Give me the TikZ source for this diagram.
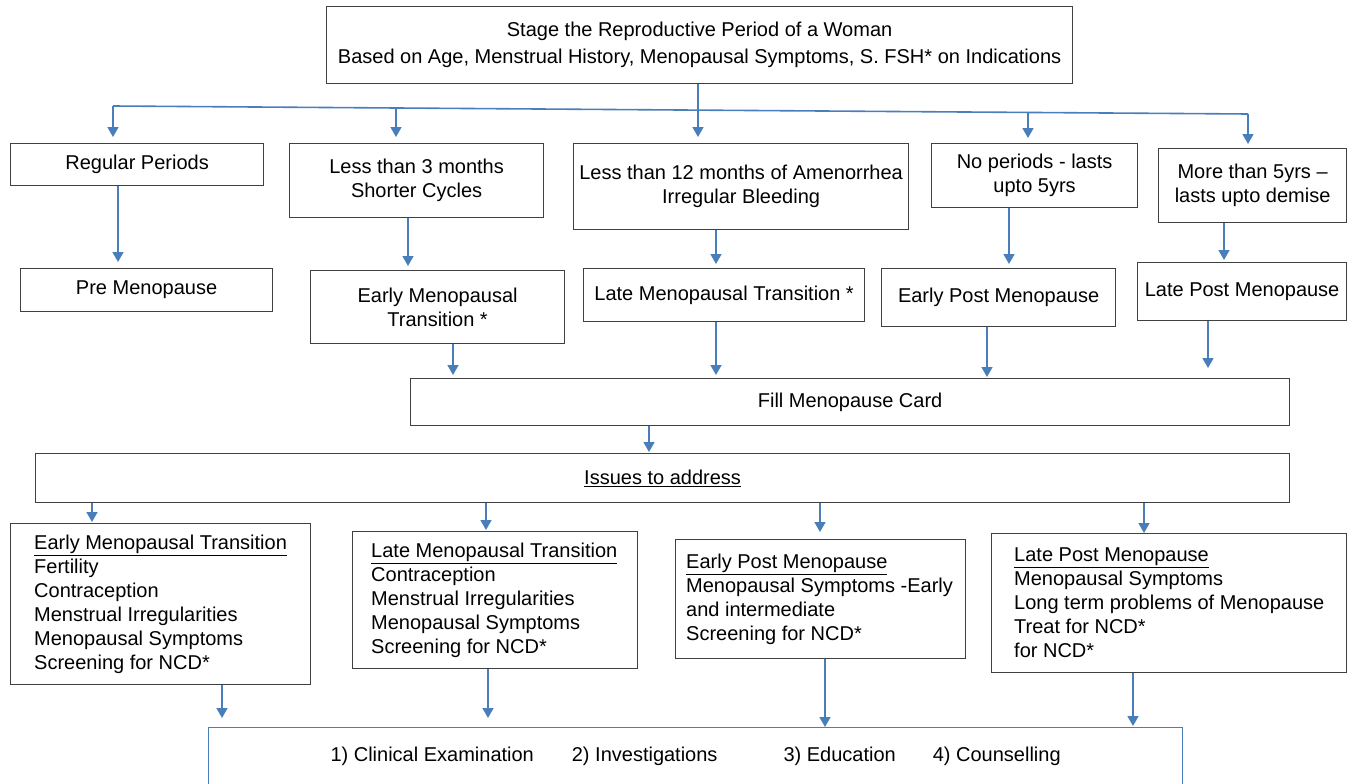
\documentclass[tikz,border=0pt]{standalone}
\usepackage{fontspec}
\setmainfont{Liberation Sans}
\usetikzlibrary{arrows.meta}
\definecolor{arrblue}{HTML}{4A7EBB}
\definecolor{boxgray}{HTML}{404040}

\begin{document}
\begin{tikzpicture}[x=1pt, y=-1pt,
  box/.style={draw=boxgray, line width=1.2pt, inner sep=0pt, align=center, font=\fontsize{20}{24}\selectfont},
  txt/.style={inner sep=0pt, anchor=west, align=left, font=\fontsize{20}{24}\selectfont},
  wire/.style={draw=arrblue, line width=1.6pt},
  arr/.style={wire, -{Triangle[width=11pt,length=10pt]}}]

  \useasboundingbox (0,0) rectangle (1349,784);

  \newcommand\bx[6]{\node[box, anchor=north west, minimum width=#4pt, minimum height=#5pt] (#1) at (#2,#3) {#6};}
  \newcommand\vlink[4]{\coordinate (vx) at (#3,0); \draw[arr, shorten >=#4pt] (#1.south -| vx) -- (#2.north -| vx);}

  %% top
  \bx{top}{326}{6}{746}{77}{Stage the Reproductive Period of a Woman\\[3pt]Based on Age, Menstrual History, Menopausal Symptoms, S. FSH* on Indications}

  %% stage rows
  \bx{r1}{10}{143}{253}{42}{Regular Periods}
  \bx{r2}{289}{143}{254}{74}{Less than 3 months\\Shorter Cycles}
  \bx{r3}{573}{143}{335}{86}{Less than 12 months of Amenorrhea\\Irregular Bleeding}
  \bx{r4}{931}{143}{206}{64}{No periods - lasts\\upto 5yrs}
  \bx{r5}{1158}{148}{188}{74}{More than 5yrs --\\lasts upto demise}

  \bx{s1}{20}{268}{252}{43}{Pre Menopause}
  \bx{s2}{310}{270}{254}{73}{Early Menopausal\\Transition *}
  \bx{s3}{583}{268}{281}{53}{Late Menopausal Transition *}
  \bx{s4}{881}{268}{234}{58}{Early Post Menopause}
  \bx{s5}{1137}{262}{209}{58}{Late Post Menopause}

  \bx{fill}{410}{378}{879}{47}{Fill Menopause Card}
  \bx{iss}{35}{453}{1254}{49}{\underline{Issues to address}}

  %% issues per stage
  \bx{t1}{10}{523}{300}{161}{}
  \node[txt] (t1x) at ([xshift=24pt]t1.west) {\underline{Early Menopausal Transition}\\Fertility\\Contraception\\Menstrual Irregularities\\Menopausal Symptoms\\Screening for NCD*};
  \bx{t2}{352}{531}{285}{137}{}
  \node[txt] (t2x) at ([xshift=19pt]t2.west) {\underline{Late Menopausal Transition}\\Contraception\\Menstrual Irregularities\\Menopausal Symptoms\\Screening for NCD*};
  \bx{t3}{675}{539}{290}{119}{}
  \node[txt] (t3x) at ([xshift=11pt]t3.west) {\underline{Early Post Menopause}\\Menopausal Symptoms -Early\\and intermediate\\Screening for NCD*};
  \bx{t4}{991}{533}{355}{139}{}
  \node[txt] (t4x) at ([xshift=23pt]t4.west) {\underline{Late Post Menopause}\\Menopausal Symptoms\\Long term problems of Menopause\\Treat for NCD*\\for NCD*};

  %% bottom
  \node[draw=arrblue, line width=1.2pt, anchor=north west, minimum width=974pt, minimum height=80pt] (bot) at (208,727) {};
  \node[txt, anchor=center] (botx) at ([yshift=-29pt]bot.north) {1) Clinical Examination\hspace{38pt}2) Investigations\hspace{66pt}3) Education\hspace{37pt}4) Counselling};

  %% split line under the top box
  \coordinate (jt) at (698,110);
  \coordinate (jl) at (113,106);
  \coordinate (jr) at (1248,114);
  \draw[wire] (top.south -| jt) -- (jt);
  \draw[wire] (jl) -- (jr);
  \draw[arr, shorten >=6pt] (jl) -- (jl |- r1.north);
  \draw[arr, shorten >=6pt] (396,108) coordinate (j2) -- (j2 |- r2.north);
  \draw[arr, shorten >=6pt] (jt) -- (jt |- r3.north);
  \draw[arr, shorten >=5pt] (1028,112.4) coordinate (j4) -- (j4 |- r4.north);
  \draw[arr, shorten >=4pt] (jr) -- (jr |- r5.north);

  %% rows
  \vlink{r1}{s1}{118}{6}
  \vlink{r2}{s2}{408}{4}
  \vlink{r3}{s3}{716}{4}
  \vlink{r4}{s4}{1009}{4}
  \vlink{r5}{s5}{1224}{2}

  \vlink{s2}{fill}{453}{3}
  \vlink{s3}{fill}{716}{3}
  \vlink{s4}{fill}{987}{1}
  \vlink{s5}{fill}{1208}{10}

  \vlink{fill}{iss}{649}{1}

  \vlink{iss}{t1}{92}{1}
  \vlink{iss}{t2}{486}{1}
  \vlink{iss}{t3}{820}{7}
  \vlink{iss}{t4}{1144}{0}

  \vlink{t1}{bot}{222}{9}
  \vlink{t2}{bot}{488}{9}
  \vlink{t3}{bot}{825}{0}
  \vlink{t4}{bot}{1133}{1}
\end{tikzpicture}
\end{document}
